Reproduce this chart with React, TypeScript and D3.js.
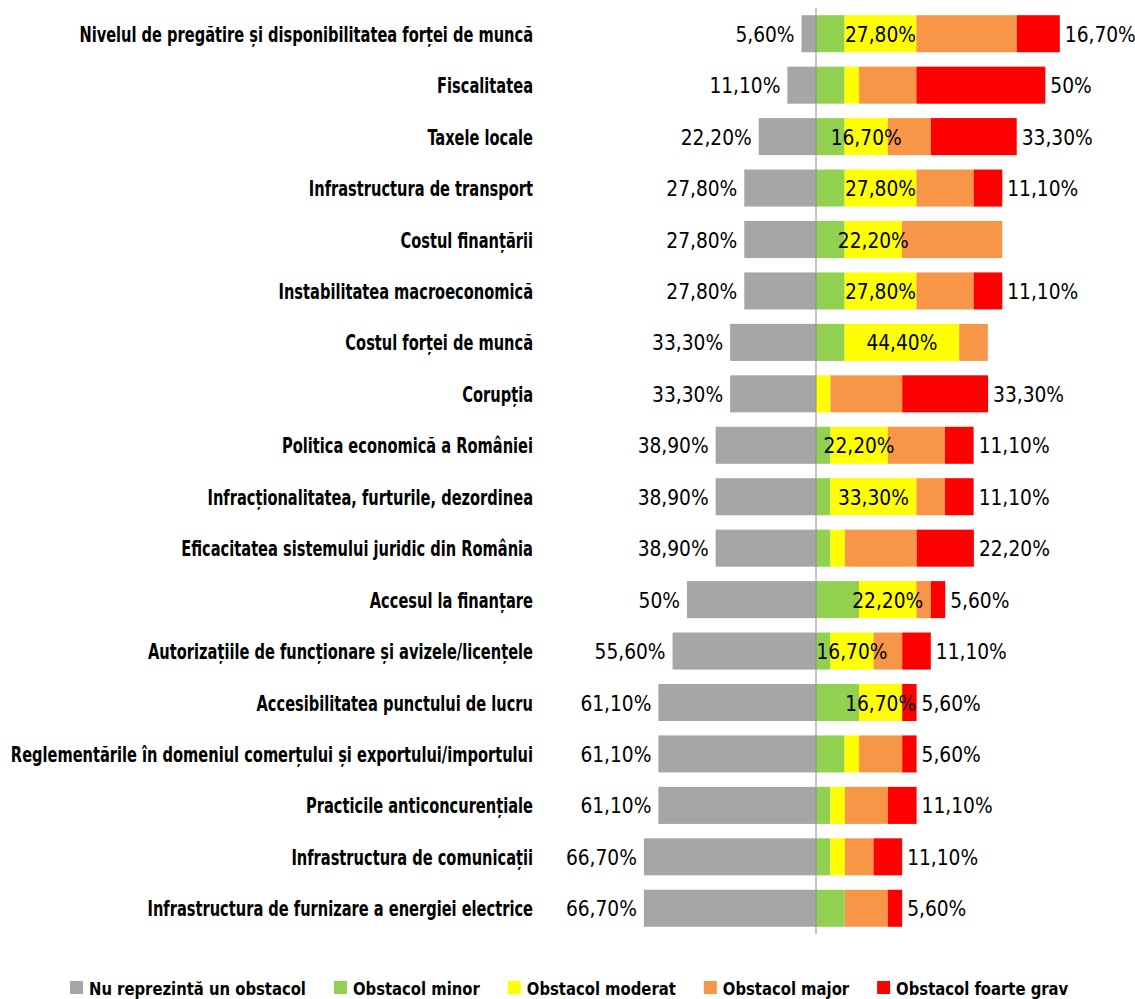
import React, { useEffect, useRef } from "react";
import * as d3 from "d3";

const categories = [
  "Nivelul de pregătire și disponibilitatea forței de muncă",
  "Fiscalitatea",
  "Taxele locale",
  "Infrastructura de transport",
  "Costul finanțării",
  "Instabilitatea macroeconomică",
  "Costul forței de muncă",
  "Corupția",
  "Politica economică a României",
  "Infracționalitatea, furturile, dezordinea",
  "Eficacitatea sistemului juridic din România",
  "Accesul la finanțare",
  "Autorizațiile de funcționare și avizele/licențele",
  "Accesibilitatea punctului de lucru",
  "Reglementările în domeniul comerțului și exportului/importului",
  "Practicile anticoncurențiale",
  "Infrastructura de comunicații",
  "Infrastructura de furnizare a energiei electrice",
];

const nuObstacol = [5.6, 11.1, 22.2, 27.8, 27.8, 27.8, 33.3, 33.3, 38.9, 38.9, 38.9, 50, 55.6, 61.1, 61.1, 61.1, 66.7, 66.7];
const obstacolMinor = [11.1, 11.1, 11.1, 11.1, 11.1, 11.1, 11.1, 0, 5.6, 5.6, 5.6, 16.7, 5.6, 16.7, 11.1, 5.6, 5.6, 11.1];
const obstacolModerat = [27.8, 5.6, 16.7, 27.8, 22.2, 27.8, 44.4, 5.6, 22.2, 33.3, 5.6, 22.2, 16.7, 16.7, 5.6, 5.6, 5.6, 0];
const obstacolMajor = [38.9, 22.2, 16.7, 22.2, 38.9, 22.2, 11.1, 27.8, 22.2, 11.1, 27.8, 5.6, 11.1, 0, 16.7, 16.7, 11.1, 16.7];
const obstacolGrav = [16.7, 50, 33.3, 11.1, 0, 11.1, 0, 33.3, 11.1, 11.1, 22.2, 5.6, 11.1, 5.6, 5.6, 11.1, 11.1, 5.6];

const seriesNames = [
  "Nu reprezintă un obstacol",
  "Obstacol minor",
  "Obstacol moderat",
  "Obstacol major",
  "Obstacol foarte grav",
];
const seriesColors = ["#A6A6A6", "#92D050", "#FFFF00", "#F79646", "#FF0000"];

const W = 1135;
const H = 999;
const FONT = "'DejaVu Sans Condensed', 'DejaVu Sans', sans-serif";

const fmt = (v: number) => (Number.isInteger(v) ? `${v}%` : `${v.toFixed(2).replace(".", ",")}%`);

export default function App() {
  const ref = useRef<SVGSVGElement | null>(null);

  useEffect(() => {
    document.body.style.margin = "0";
    const svg = d3.select(ref.current);
    svg.selectAll("*").remove();

    const measure = (txt: string, size: number, weight: string) => {
      const t = svg
        .append("text")
        .attr("font-family", FONT)
        .attr("font-size", size)
        .attr("font-weight", weight)
        .text(txt);
      const w = (t.node() as SVGTextElement).getComputedTextLength();
      t.remove();
      return w;
    };
    const catSize = 21;
    const valSize = 21;
    const legSize = 18;
    const catScale = 454 / measure(categories[0], catSize, "bold");
    const valScale = 71 / measure("27,80%", valSize, "normal");
    const legScale = 217 / measure(seriesNames[0], legSize, "bold");

    const x = d3.scaleLinear().domain([-100, 100]).range([558, 1074]);
    const y = d3
      .scaleBand<string>()
      .domain(categories)
      .range([8, 934])
      .paddingInner(0.28)
      .paddingOuter(0.14);

    const rightSeries = [obstacolMinor, obstacolModerat, obstacolMajor, obstacolGrav];

    const rows = categories.map((c, i) => {
      let acc = 0;
      const segs = rightSeries.map((arr, k) => {
        const s = { k: k + 1, x0: acc, x1: acc + arr[i], v: arr[i] };
        acc += arr[i];
        return s;
      });
      return { c, i, nu: nuObstacol[i], segs, total: acc };
    });

    const g = svg.append("g");

    g.selectAll("rect.nu")
      .data(rows)
      .join("rect")
      .attr("class", "nu")
      .attr("x", (d) => x(-d.nu))
      .attr("y", (d) => y(d.c)!)
      .attr("width", (d) => x(0) - x(-d.nu))
      .attr("height", y.bandwidth())
      .attr("fill", seriesColors[0]);

    rows.forEach((r) => {
      g.selectAll(null)
        .data(r.segs.filter((s) => s.v > 0))
        .join("rect")
        .attr("x", (s) => x(s.x0))
        .attr("y", y(r.c)!)
        .attr("width", (s) => x(s.x1) - x(s.x0))
        .attr("height", y.bandwidth())
        .attr("fill", (s) => seriesColors[s.k]);
    });

    g.append("line")
      .attr("x1", x(0))
      .attr("x2", x(0))
      .attr("y1", 8)
      .attr("y2", 934)
      .attr("stroke", "#8C8C8C")
      .attr("stroke-width", 1);

    const cy = (d: any) => y(d.c)! + y.bandwidth() / 2 + 8;

    const addText = (
      cls: string,
      data: any[],
      px: (d: any) => number,
      anchor: string,
      size: number,
      weight: string,
      sc: number,
      txt: (d: any) => string
    ) => {
      g.selectAll(`text.${cls}`)
        .data(data)
        .join("text")
        .attr("class", cls)
        .attr("transform", (d) => `translate(${px(d)},${cy(d)}) scale(${sc},1)`)
        .attr("text-anchor", anchor)
        .attr("font-family", FONT)
        .attr("font-size", size)
        .attr("font-weight", weight)
        .attr("fill", "#000")
        .text(txt);
    };

    addText("nuLbl", rows, (d) => x(-d.nu) - 7, "end", valSize, "normal", valScale, (d) => fmt(d.nu));
    addText(
      "modLbl",
      rows.filter((r) => obstacolModerat[r.i] >= 16),
      (d) => (x(d.segs[1].x0) + x(d.segs[1].x1)) / 2,
      "middle",
      valSize,
      "normal",
      valScale,
      (d) => fmt(obstacolModerat[d.i])
    );
    addText(
      "gravLbl",
      rows.filter((r) => obstacolGrav[r.i] > 0),
      (d) => x(d.total) + 5,
      "start",
      valSize,
      "normal",
      valScale,
      (d) => fmt(obstacolGrav[d.i])
    );
    addText("cat", rows, () => 533, "end", catSize, "bold", catScale, (d) => d.c);

    const lg = svg.append("g");
    let lx = 70;
    seriesNames.forEach((name, k) => {
      lg.append("rect")
        .attr("x", lx)
        .attr("y", 981)
        .attr("width", 13)
        .attr("height", 13)
        .attr("fill", seriesColors[k]);
      const t = lg
        .append("text")
        .attr("transform", `translate(${lx + 19},995) scale(${legScale},1)`)
        .attr("font-family", FONT)
        .attr("font-weight", "bold")
        .attr("font-size", legSize)
        .attr("fill", "#000")
        .text(name);
      const w = (t.node() as SVGTextElement).getComputedTextLength() * legScale;
      lx = lx + 19 + w + 28;
    });
  }, []);

  return <svg ref={ref} width={W} height={H} style={{ display: "block", background: "#fff" }} />;
}
